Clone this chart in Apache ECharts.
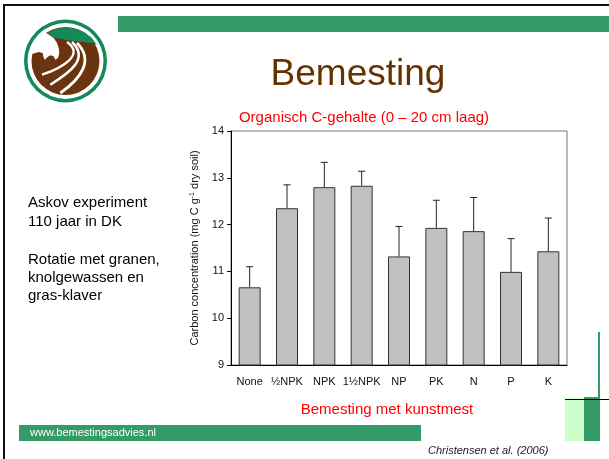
<!DOCTYPE html>
<html>
<head>
<meta charset="utf-8">
<script src="https://cdn.jsdelivr.net/npm/echarts@6/dist/echarts.min.js"></script>
<style>
  html, body { margin: 0; padding: 0; background: #fff; }
  #chart { width: 609px; height: 459px; }
</style>
</head>
<body>
<div id="chart"></div>
<script>
// treatments and soil carbon (mg C / g dry soil)
const categories = ['None', '½NPK', 'NPK', '1½NPK', 'NP', 'PK', 'N', 'P', 'K'];
const carbon = [10.66, 12.35, 12.80, 12.83, 11.32, 11.93, 11.86, 10.99, 11.43];
const errorTop = [11.10, 12.85, 13.33, 13.14, 11.96, 12.52, 12.58, 11.70, 12.14];
const yTicks = [9, 10, 11, 12, 13, 14];

const FONT = '"Liberation Sans", Arial, sans-serif';
const green = '#349a68';
const brown = '#6b3410';

const chart = echarts.init(document.getElementById('chart'));

// logo: ring, brown disc, green cap, white horse and white furrows
const logo = [
  { type: 'circle', shape: { cx: 65.5, cy: 61, r: 41.5 }, style: { fill: '#138a58' } },
  { type: 'circle', shape: { cx: 65.5, cy: 61, r: 38 }, style: { fill: '#fff' } },
  { type: 'circle', shape: { cx: 65.5, cy: 61, r: 34 }, style: { fill: brown } },
  { type: 'polygon', shape: { points: [[47, 33.5], [55, 29], [65, 27.5], [75, 28.5], [84, 32], [92, 38], [97, 45], [92, 43], [82, 42], [72, 41], [62, 39], [55, 38]] }, style: { fill: '#138a58' } },
  { type: 'polygon', shape: { points: [[30, 58], [31, 49], [34, 42], [39, 36], [44, 32], [47, 33.5], [53.7, 38], [57, 43], [58.7, 48], [59.3, 53], [58, 58], [55.3, 59.7], [53.7, 56.3], [50.3, 55.3], [47, 57.3], [45.3, 59.7], [43.7, 58], [42.7, 53], [38.7, 52], [32, 54]] }, style: { fill: '#fff' } },
  { type: 'bezierCurve', shape: { x1: 67, y1: 42, cpx1: 85.3, cpy1: 54.7, cpx2: 62, cpy2: 68, x2: 42, y2: 74.7 }, style: { stroke: '#fff', lineWidth: 2.3, fill: null } },
  { type: 'bezierCurve', shape: { x1: 72, y1: 42, cpx1: 88.7, cpy1: 58, cpx2: 72, cpy2: 71.3, x2: 50.3, y2: 84.7 }, style: { stroke: '#fff', lineWidth: 2.5, fill: null } },
  { type: 'bezierCurve', shape: { x1: 77, y1: 43, cpx1: 93.7, cpy1: 59.7, cpx2: 82, cpy2: 78, x2: 60.3, y2: 93 }, style: { stroke: '#fff', lineWidth: 2.8, fill: null } }
];

const deco = [
  { type: 'rect', shape: { x: 3, y: 4, width: 606, height: 2 }, style: { fill: '#111' } },
  { type: 'rect', shape: { x: 3, y: 4, width: 2, height: 455 }, style: { fill: '#111' } },
  { type: 'rect', shape: { x: 118, y: 16, width: 491, height: 16 }, style: { fill: green } },
  { type: 'rect', shape: { x: 19, y: 425, width: 402, height: 16 }, style: { fill: green } },
  { type: 'rect', shape: { x: 565, y: 398, width: 19, height: 43 }, style: { fill: '#ccffcc' } },
  { type: 'rect', shape: { x: 584, y: 397, width: 16, height: 44 }, style: { fill: green } },
  { type: 'line', shape: { x1: 599, y1: 332, x2: 599, y2: 397 }, style: { stroke: green, lineWidth: 2 } },
  { type: 'line', shape: { x1: 565, y1: 399.5, x2: 609, y2: 399.5 }, style: { stroke: '#000', lineWidth: 1 } }
];

const texts = [
  { x: 358, y: 75, text: 'Bemesting', size: 37, color: '#663300', align: 'center' },
  { x: 364, y: 118, text: 'Organisch C-gehalte (0 – 20 cm laag)', size: 15, color: '#ff0000', align: 'center' },
  { x: 28, y: 203, text: 'Askov experiment', size: 15, color: '#000' },
  { x: 28, y: 222, text: '110 jaar in DK', size: 15, color: '#000' },
  { x: 28, y: 260, text: 'Rotatie met granen,', size: 15, color: '#000' },
  { x: 28, y: 278, text: 'knolgewassen en', size: 15, color: '#000' },
  { x: 28, y: 296, text: 'gras-klaver', size: 15, color: '#000' },
  { x: 387, y: 410, text: 'Bemesting met kunstmest', size: 15, color: '#ff0000', align: 'center' },
  { x: 30, y: 433, text: 'www.bemestingsadvies.nl', size: 11, color: '#fff' },
  { x: 428, y: 451, text: 'Christensen et al. (2006)', size: 11, color: '#222', italic: true }
].map(t => ({
  type: 'text', x: t.x, y: t.y,
  style: {
    text: t.text, fill: t.color, fontSize: t.size, fontFamily: FONT,
    fontStyle: t.italic ? 'italic' : 'normal',
    align: t.align || 'left', verticalAlign: 'middle'
  }
}));

const option = {
  animation: false,
  backgroundColor: '#fff',
  graphic: { elements: deco.concat(logo, texts) },
  grid: {
    left: 231, right: 42, top: 131, bottom: 94,
    show: true, borderColor: '#777', borderWidth: 1, backgroundColor: 'transparent'
  },
  xAxis: {
    type: 'category',
    data: categories,
    axisLine: { lineStyle: { color: '#000', width: 1 } },
    axisTick: { alignWithLabel: true, length: 4, lineStyle: { color: '#000' } },
    axisLabel: { interval: 0, color: '#111', fontSize: 11, fontFamily: FONT, margin: 11 }
  },
  yAxis: {
    type: 'value',
    min: yTicks[0], max: yTicks[yTicks.length - 1], interval: 1,
    splitLine: { show: false },
    axisLine: { show: true, lineStyle: { color: '#000', width: 1 } },
    axisTick: { show: true, length: 4, lineStyle: { color: '#000' } },
    axisLabel: { color: '#111', fontSize: 11, fontFamily: FONT, margin: 7 },
    name: 'Carbon concentration (mg C g{sup|-1} dry soil)',
    nameLocation: 'middle',
    nameRotate: 90,
    nameGap: 27,
    nameTextStyle: {
      color: '#111', fontSize: 11, fontFamily: FONT,
      rich: { sup: { fontSize: 7, verticalAlign: 'top', color: '#111', fontFamily: FONT, padding: [0, 0, 6, 0] } }
    }
  },
  series: [
    {
      type: 'bar',
      data: carbon,
      barWidth: 22,
      itemStyle: { color: '#c0c0c0', borderColor: '#333', borderWidth: 1 }
    },
    {
      type: 'custom',
      data: carbon.map((v, i) => [i, v, errorTop[i]]),
      renderItem: function (params, api) {
        const base = api.coord([api.value(0), api.value(1)]);
        const top = api.coord([api.value(0), api.value(2)]);
        return {
          type: 'group',
          children: [
            { type: 'line', shape: { x1: base[0], y1: base[1], x2: top[0], y2: top[1] }, style: { stroke: '#222', lineWidth: 1 } },
            { type: 'line', shape: { x1: top[0] - 3.5, y1: top[1], x2: top[0] + 3.5, y2: top[1] }, style: { stroke: '#222', lineWidth: 1 } }
          ]
        };
      },
      z: 3
    }
  ]
};

chart.setOption(option);
</script>
</body>
</html>
